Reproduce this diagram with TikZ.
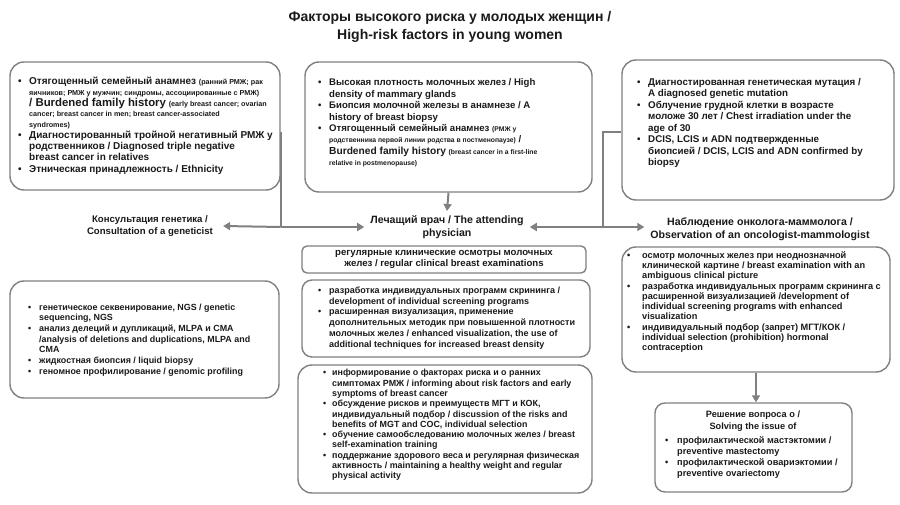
\documentclass[tikz,border=0pt]{standalone}
\usepackage{fontspec}
\setmainfont{Liberation Sans}
\usetikzlibrary{arrows.meta}
\definecolor{edge}{HTML}{808080}
\definecolor{ink}{HTML}{1A1A1A}
\newcommand\fs[2]{\fontsize{#1}{#2}\selectfont}
\newlength\bw
\setlength\bw{11pt}
\newcommand\bul{\makebox[\bw][l]{\textbullet}}
\newcommand\ind{\hspace*{\bw}}
\begin{document}
\begin{tikzpicture}[x=1pt,y=-1pt,
  frame/.style={draw=edge, line width=1.4pt, rounded corners=14pt, inner sep=0pt},
  txt/.style={align=left, inner sep=0pt, text=ink, anchor=west},
  lab/.style={align=center, text=ink},
  conn/.style={draw=edge, line width=2pt},
  arr/.style={conn, -{Triangle[length=7pt,width=8pt]}}]
\useasboundingbox[fill=white] (0,0) rectangle (900,505);

% title
\node[lab, font=\bfseries\fs{14}{18}] (title) at (450,27)
  {Факторы высокого риска у молодых женщин /\\High-risk factors in young women};

% top boxes
\node[frame, minimum width=270pt, minimum height=128pt] (A) at (145,126) {};
\node[txt, font=\bfseries\fs{10}{10.8}] (At) at (18,126) {%
\bul Отягощенный семейный анамнез {\fs{7.2}{8}(ранний РМЖ; рак}\\
\ind{\fs{7.2}{8}яичников; РМЖ у мужчин; синдромы, ассоциированные с РМЖ)}\\
\ind{\fs{11.4}{12}/ Burdened family history} {\fs{7.2}{8}(early breast cancer; ovarian}\\
\ind{\fs{7.2}{8}cancer; breast cancer in men; breast cancer-associated}\\
\ind{\fs{7.2}{8}syndromes)}\\
\bul Диагностированный тройной негативный РМЖ у\\
\ind родственников / Diagnosed triple negative\\
\ind breast cancer in relatives\\[2pt]
\bul Этническая принадлежность / Ethnicity};

\node[frame, minimum width=287pt, minimum height=130pt] (B) at (448.5,127) {};
\node[txt, font=\bfseries\fs{9.6}{11.4}] (Bt) at (318,123) {%
\bul Высокая плотность молочных желез / High\\
\ind density of mammary glands\\
\bul Биопсия молочной железы в анамнезе / A\\
\ind history of breast biopsy\\
\bul Отягощенный семейный анамнез {\fs{6.8}{7.5}(РМЖ у}\\
\ind{\fs{6.8}{7.5}родственника первой линии родства в постменопаузе)} /\\
\ind{\fs{10.2}{11}Burdened family history} {\fs{6.8}{7.5}(breast cancer in a first-line}\\
\ind{\fs{6.8}{7.5}relative in postmenopause)}};

\node[frame, minimum width=272pt, minimum height=140pt] (C) at (758,130) {};
\node[txt, font=\bfseries\fs{9.8}{11.5}] (Ct) at (637,123) {%
\bul Диагностированная генетическая мутация /\\
\ind A diagnosed genetic mutation\\
\bul Облучение грудной клетки в возрасте\\
\ind моложе 30 лет / Chest irradiation under the\\
\ind age of 30\\
\bul DCIS, LCIS и ADN подтвержденные\\
\ind биопсией / DCIS, LCIS and ADN confirmed by\\
\ind biopsy};

% labels
\node[lab, font=\bfseries\fs{9.6}{12.5}, inner xsep=10pt] (gen) at (150,226)
  {Консультация генетика /\\Consultation of a geneticist};
\node[lab, font=\bfseries\fs{10.6}{13.5}, inner xsep=6pt, inner ysep=4pt] (phys) at (447,227)
  {Лечащий врач / The attending\\physician};
\node[lab, font=\bfseries\fs{10.6}{13.5}, inner xsep=6pt] (onc) at (760,229)
  {Наблюдение онколога-маммолога /\\Observation of an oncologist-mammologist};

% lower boxes
\node[frame, minimum width=269pt, minimum height=117pt] (D) at (144.5,339.5) {};
\node[txt, font=\bfseries\fs{8.9}{10.7}] (Dt) at (28,340) {%
\bul генетическое секвенирование, NGS / genetic\\
\ind sequencing, NGS\\
\bul анализ делеций и дупликаций, MLPA и CMA\\
\ind /analysis of deletions and duplications, MLPA and\\
\ind CMA\\
\bul жидкостная биопсия / liquid biopsy\\
\bul геномное профилирование / genomic profiling};

\node[frame, rounded corners=5pt, minimum width=284pt, minimum height=27pt,
  font=\bfseries\fs{9.6}{11}, text=ink, align=center] (E) at (444,259.5)
  {регулярные клинические осмотры молочных\\желез / regular clinical breast examinations};

\node[frame, rounded corners=10pt, minimum width=288pt, minimum height=77pt] (F) at (446,318.5) {};
\node[txt, font=\bfseries\fs{9}{10.8}] (Ft) at (318,318) {%
\bul разработка индивидуальных программ скрининга /\\
\ind development of individual screening programs\\
\bul расширенная визуализация, применение\\
\ind дополнительных методик при повышенной плотности\\
\ind молочных желез / enhanced visualization, the use of\\
\ind additional techniques for increased breast density};

\node[frame, minimum width=294pt, minimum height=128pt] (G) at (445,429) {};
\setlength\bw{9pt}
\node[txt, font=\bfseries\fs{8.9}{10.3}] (Gt) at (323,425) {%
\bul информирование о факторах риска и о ранних\\
\ind симптомах РМЖ / informing about risk factors and early\\
\ind symptoms of breast cancer\\
\bul обсуждение рисков и преимуществ МГТ и КОК,\\
\ind индивидуальный подбор / discussion of the risks and\\
\ind benefits of MGT and COC, individual selection\\
\bul обучение самообследованию молочных желез / breast\\
\ind self-examination training\\
\bul поддержание здорового веса и регулярная физическая\\
\ind активность / maintaining a healthy weight and regular\\
\ind physical activity};

\node[frame, minimum width=268pt, minimum height=125pt] (H) at (756,309.5) {};
\setlength\bw{15pt}
\node[txt, font=\bfseries\fs{9.2}{10.3}] (Ht) at (627,302) {%
\bul осмотр молочных желез при неоднозначной\\
\ind клинической картине / breast examination with an\\
\ind ambiguous clinical picture\\
\bul разработка индивидуальных программ скрининга с\\
\ind расширенной визуализацией /development of\\
\ind individual screening programs with enhanced\\
\ind visualization\\
\bul индивидуальный подбор (запрет) МГТ/КОК /\\
\ind individual selection (prohibition) hormonal\\
\ind contraception};

\node[frame, rounded corners=10pt, minimum width=197pt, minimum height=89pt] (I) at (753.5,447.5) {};
\node[lab, font=\bfseries\fs{9.2}{11.5}, inner sep=0pt] (Ih) at (753,421)
  {Решение вопроса о /\\Solving the issue of};
\setlength\bw{12pt}
\node[txt, font=\bfseries\fs{9.2}{11}] (It) at (665,458) {%
\bul профилактической мастэктомии /\\
\ind preventive mastectomy\\
\bul профилактической овариэктомии /\\
\ind preventive ovariectomy};

% connectors
\coordinate (jA) at (A.east |- phys.west);
\coordinate (jC) at (603,227);
\draw[conn] ([yshift=-6pt]A.east) -- (jA);
\draw[arr] (jA) -- (gen.east);
\draw[arr] (jA) -- (phys.west);
\draw[conn] ([yshift=-2pt]C.west) -| (jC);
\draw[arr] (jC) -- (phys.east);
\draw[arr] (jC) -- (onc.west |- jC);
\draw[arr] (B.south) -- (phys.north);
\draw[arr] (H.south) -- (H.south |- I.north);
\end{tikzpicture}
\end{document}
